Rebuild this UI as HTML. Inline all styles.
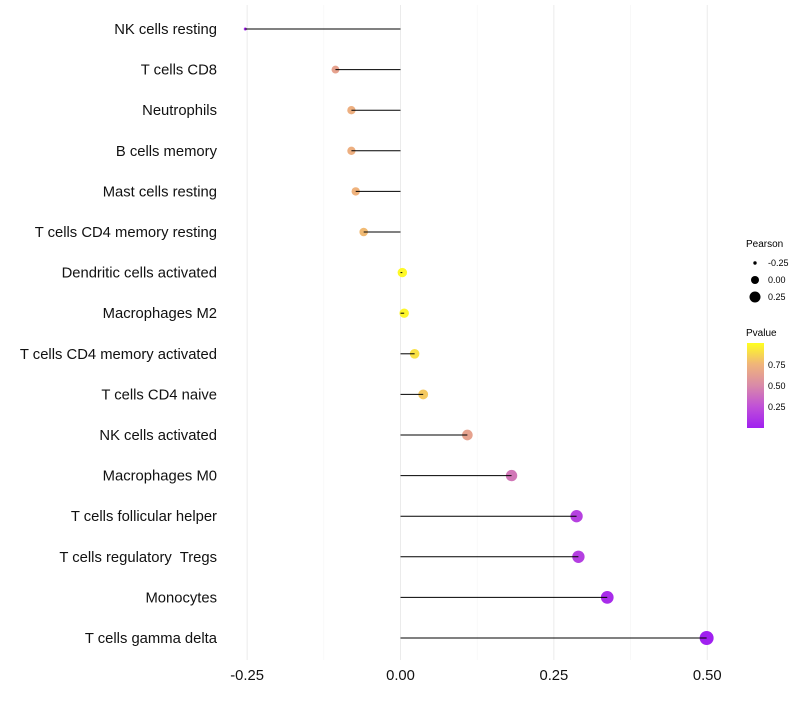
<!DOCTYPE html>
<html><head><meta charset="utf-8"><style>
body{margin:0;background:#fff;font-family:"Liberation Sans",sans-serif}
text{white-space:pre}
</style></head><body>
<svg id="chart" width="800" height="700" xmlns="http://www.w3.org/2000/svg">
<defs><linearGradient id="pg" x1="0" y1="1" x2="0" y2="0">
<stop offset="0" stop-color="#a020f0"/><stop offset="0.25" stop-color="#c050d8"/><stop offset="0.5" stop-color="#d98aa8"/><stop offset="0.75" stop-color="#f0b47a"/><stop offset="1" stop-color="#ffff20"/></linearGradient></defs>
<g id="grid"></g><g id="dots"></g><g id="marks"></g><g id="labels"></g>
<g font-size="9">
<text x="746" y="247" font-size="10">Pearson</text>
<circle cx="755" cy="263" r="1.7"/><text x="768" y="266">-0.25</text>
<circle cx="755" cy="280" r="4"/><text x="768" y="283">0.00</text>
<circle cx="755" cy="297" r="5.5"/><text x="768" y="300">0.25</text>
</g>
<g font-size="9">
<text x="746" y="336" font-size="10">Pvalue</text>
<rect x="747" y="343" width="17" height="85" fill="url(#pg)"/>
<text x="768" y="368">0.75</text><text x="768" y="389">0.50</text><text x="768" y="410">0.25</text>
</g>
</svg>
<script>
const categories=["NK cells resting","T cells CD8","Neutrophils","B cells memory","Mast cells resting","T cells CD4 memory resting","Dendritic cells activated","Macrophages M2","T cells CD4 memory activated","T cells CD4 naive","NK cells activated","Macrophages M0","T cells follicular helper","T cells regulatory  Tregs","Monocytes","T cells gamma delta"];
const pearson=[-0.253,-0.106,-0.080,-0.080,-0.073,-0.060,0.003,0.006,0.023,0.037,0.109,0.181,0.287,0.290,0.337,0.499];
const pvalues=[0.02,0.64,0.72,0.72,0.74,0.77,0.98,0.97,0.9,0.82,0.64,0.42,0.17,0.16,0.06,0.002];
const xTicks=[-0.25,0,0.25,0.5];
const xTickLabels=["-0.25","0.00","0.25","0.50"];
const NS="http://www.w3.org/2000/svg";
const x=v=>400.5+v*613.5;
const y=i=>29+i*40.6;
function mk(t,a,p){const e=document.createElementNS(NS,t);for(const k in a)e.setAttribute(k,a[k]);p.appendChild(e);return e;}
function lerp(a,b,t){return a.map((v,i)=>Math.round(v+(b[i]-v)*t));}
function col(p){const s=[[0,[160,32,240]],[0.25,[192,80,216]],[0.5,[217,138,168]],[0.75,[240,180,122]],[1,[255,255,32]]];p=Math.max(0,Math.min(1,p));
for(let i=1;i<s.length;i++){if(p<=s[i][0]){const c=lerp(s[i-1][1],s[i][1],(p-s[i-1][0])/(s[i][0]-s[i-1][0]));return `rgb(${c})`;}}return "rgb(255,255,32)";}
const grid=document.getElementById('grid'),dots=document.getElementById('dots'),marks=document.getElementById('marks'),labels=document.getElementById('labels');
const minor=[-0.125,0.125,0.375];
minor.forEach(v=>{const l=mk('line',{x1:x(v),x2:x(v),y1:5,y2:660,stroke:'#f4f4f4','stroke-width':0.6},grid);

});
xTicks.forEach((v,i)=>{const l=mk('line',{x1:x(v),x2:x(v),y1:5,y2:660,stroke:'#ebebeb','stroke-width':1},grid);


const t=mk('text',{x:x(v),y:680,'text-anchor':'middle','font-size':14.8,fill:'#111'},labels);t.textContent=xTickLabels[i];

});
const pmin=Math.min(...pearson),pmax=Math.max(...pearson);
categories.forEach((c,i)=>{
const tt=(pearson[i]-pmin)/(pmax-pmin);
const r=1.5+5.5*Math.sqrt(tt);
const d=mk('circle',{cx:x(pearson[i]),cy:y(i),r:r,fill:col(pvalues[i])},dots);


const l=mk('line',{x1:x(0),x2:x(pearson[i]),y1:y(i),y2:y(i),stroke:'#000','stroke-width':1},marks);


const t=mk('text',{x:217,y:y(i)+5,'text-anchor':'end','font-size':14.8,fill:'#111'},labels);t.textContent=c;

});
</script>
</body></html>
